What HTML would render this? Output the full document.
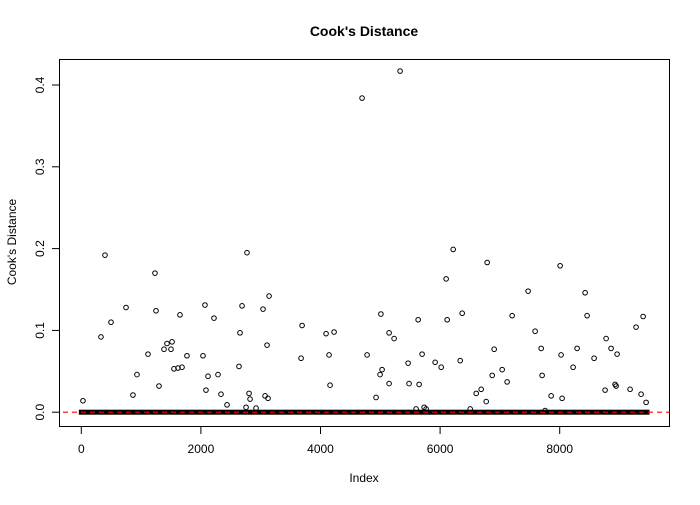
<!DOCTYPE html>
<html><head><meta charset="utf-8"><style>
body{margin:0;background:#fff}
svg text{font-family:"Liberation Sans",Arial,sans-serif;font-size:12px}
</style></head><body>
<svg id="chart" width="700" height="500" xmlns="http://www.w3.org/2000/svg">
<defs><clipPath id="pc"><rect x="59.5" y="59.5" width="610" height="367"/></clipPath></defs>
<rect width="700" height="500" fill="#fff"/>
<text x="364" y="36" text-anchor="middle" font-weight="bold" style="font-size:14px">Cook's Distance</text>
<text x="364" y="482" text-anchor="middle">Index</text>
<text transform="translate(16,242) rotate(-90)" text-anchor="middle">Cook's Distance</text>
<rect x="59.5" y="59.5" width="610" height="367" fill="none" stroke="#000"/>
<g id="xaxis"></g><g id="yaxis"></g><g id="marks" clip-path="url(#pc)"></g>
</svg>
<script>
const xTicks=[0,2000,4000,6000,8000];
const xTickLabels=["0","2000","4000","6000","8000"];
const yTicks=[0,0.1,0.2,0.3,0.4];
const yTickLabels=["0.0","0.1","0.2","0.3","0.4"];
const nObs=9460;
const idx=[28,329,396,497,748,864,931,1115,1232,1249,1299,1383,1433,1500,1517,1550,1617,1650,1684,1767,2035,2068,2085,2119,2219,2286,2336,2437,2637,2654,2688,2755,2771,2805,2822,2922,3039,3073,3106,3123,3140,3675,3692,4093,4143,4160,4227,4695,4779,4929,4996,5010,5030,5147,5147,5231,5331,5465,5481,5599,5633,5649,5699,5733,5766,5917,6018,6101,6118,6219,6336,6369,6503,6604,6687,6771,6787,6871,6904,7038,7121,7205,7472,7589,7690,7706,7756,7857,8007,8023,8040,8224,8291,8425,8458,8575,8759,8776,8859,8926,8943,8960,9177,9277,9361,9395,9445];
const cook=[0.014,0.092,0.192,0.11,0.128,0.021,0.046,0.071,0.17,0.124,0.032,0.077,0.084,0.077,0.086,0.053,0.054,0.119,0.055,0.069,0.069,0.131,0.027,0.044,0.115,0.046,0.022,0.009,0.056,0.097,0.13,0.006,0.195,0.023,0.016,0.005,0.126,0.02,0.082,0.017,0.142,0.066,0.106,0.096,0.07,0.033,0.098,0.384,0.07,0.018,0.046,0.12,0.052,0.035,0.097,0.09,0.417,0.06,0.035,0.004,0.113,0.034,0.071,0.006,0.004,0.061,0.055,0.163,0.113,0.199,0.063,0.121,0.004,0.023,0.028,0.013,0.183,0.045,0.077,0.052,0.037,0.118,0.148,0.099,0.078,0.045,0.002,0.02,0.179,0.07,0.017,0.055,0.078,0.146,0.118,0.066,0.027,0.09,0.078,0.034,0.032,0.071,0.028,0.104,0.022,0.117,0.012];
const X=v=>81.3+v*0.0598, Y=v=>412.2-v*818;
const NS="http://www.w3.org/2000/svg";
function mk(t,a,p){const e=document.createElementNS(NS,t);for(const k in a)e.setAttribute(k,a[k]);p.appendChild(e);return e;}
const xa=document.getElementById('xaxis'),ya=document.getElementById('yaxis'),mg=document.getElementById('marks');
xTicks.forEach((v,i)=>{const l=mk('line',{x1:X(v),x2:X(v),y1:426.5,y2:434,stroke:'#000'},xa);


const t=mk('text',{x:X(v),y:453,'text-anchor':'middle'},xa);t.textContent=xTickLabels[i];

});
yTicks.forEach((v,i)=>{const l=mk('line',{x1:52,x2:59.5,y1:Y(v),y2:Y(v),stroke:'#000'},ya);


const t=mk('text',{transform:`translate(44,${Y(v)}) rotate(-90)`,'text-anchor':'middle'},ya);t.textContent=yTickLabels[i];

});
const band=mk('rect',{x:X(1)-2.5,y:Y(0)-2.5,width:X(nObs)-X(1)+5,height:5,fill:'#000'},mg);


idx.forEach((v,i)=>{const c=mk('circle',{cx:X(v),cy:Y(cook[i]),r:2.3,fill:'none',stroke:'#000','stroke-width':1},mg);

});
const ref=mk('line',{x1:0,x2:700,y1:Y(0),y2:Y(0),stroke:'#f00','stroke-width':1.2,'stroke-dasharray':'5 4'},mg);


</script>
</body></html>
